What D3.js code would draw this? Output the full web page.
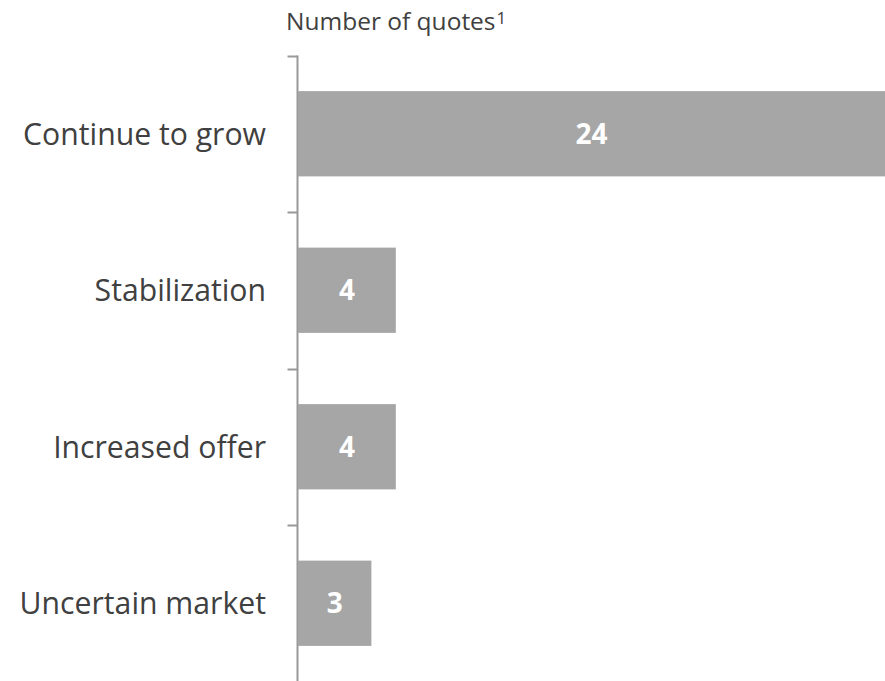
<!DOCTYPE html>
<html><head><meta charset="utf-8">
<script src="https://cdn.jsdelivr.net/npm/d3@7"></script>
<style>body{margin:0;background:#fff}svg{display:block}</style>
</head><body>
<script>
const categories = ["Continue to grow", "Stabilization", "Increased offer", "Uncertain market"];
const values = [24, 4, 4, 3];
const title = "Number of quotes";
const titleSup = "1";

const W = 885, H = 681;
const svg = d3.select("body").append("svg").attr("width", W).attr("height", H);
const font = "'Open Sans', sans-serif";
const axisX = 297.5;

const y = d3.scaleBand().domain(categories).range([55.5, 681.5]).paddingInner(0.455).paddingOuter(0.2275);
const x = d3.scaleLinear().domain([0, 24]).range([axisX + 0.5, 885]);

// axis line and ticks at band boundaries
const step = y.step();
const y0 = 55.5;
svg.append("line").attr("x1", axisX).attr("x2", axisX).attr("y1", y0).attr("y2", H)
  .attr("stroke", "#999").attr("stroke-width", 2);
categories.forEach((c, i) => {
  const ty = Math.round(y0 + i * step) + 0.5;
  svg.append("line").attr("x1", axisX - 10).attr("x2", axisX).attr("y1", ty).attr("y2", ty)
    .attr("stroke", "#999").attr("stroke-width", 2);
});

svg.selectAll("rect.bar").data(values).join("rect").attr("class", "bar")
  .attr("x", x(0)).attr("y", (d, i) => y(categories[i]))
  .attr("width", d => x(d) - x(0)).attr("height", y.bandwidth())
  .attr("fill", "#a6a6a6");

svg.selectAll("text.val").data(values).join("text").attr("class", "val")
  .attr("x", d => (x(0) + x(d)) / 2).attr("y", (d, i) => y(categories[i]) + y.bandwidth() / 2)
  .attr("dy", "0.36em").attr("text-anchor", "middle")
  .attr("font-family", font).attr("font-weight", "bold").attr("font-size", 28)
  .attr("fill", "#fff").text(d => d);

svg.selectAll("text.cat").data(categories).join("text").attr("class", "cat")
  .attr("x", 266).attr("y", d => y(d) + y.bandwidth() / 2)
  .attr("dy", "0.36em").attr("text-anchor", "end")
  .attr("font-family", font).attr("font-size", 30.2)
  .attr("fill", "#404040").text(d => d);

const t = svg.append("text").attr("x", 286).attr("y", 30)
  .attr("font-family", font).attr("font-size", 24.5).attr("fill", "#404040");
t.append("tspan").text(title);
t.append("tspan").attr("font-size", 17).attr("dy", -6).attr("dx", 1).text(titleSup);
</script>
</body></html>
